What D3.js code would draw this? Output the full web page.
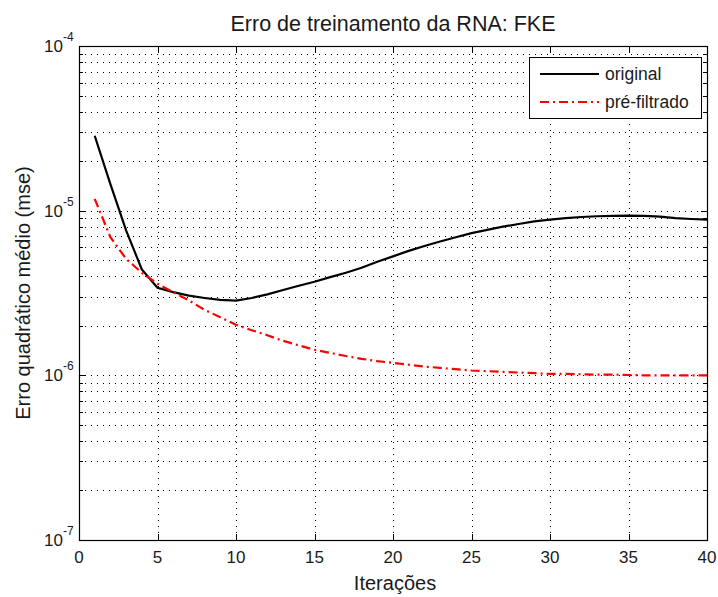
<!DOCTYPE html>
<html>
<head>
<meta charset="utf-8">
<script src="https://cdn.jsdelivr.net/npm/d3@7"></script>
<style>
body{margin:0;background:#fff;}
text{font-family:"Liberation Sans",Arial,Helvetica,sans-serif;fill:#1a1a1a;}
</style>
</head>
<body>
<svg id="chart" width="718" height="597"></svg>
<script>
const iterations = d3.range(1, 41);
const original = [2.85e-5,1.45e-5,7.6e-6,4.4e-6,3.4e-6,3.2e-6,3.05e-6,2.95e-6,2.87e-6,2.84e-6,
  2.95e-6,3.1e-6,3.3e-6,3.5e-6,3.7e-6,3.95e-6,4.2e-6,4.5e-6,4.9e-6,5.28e-6,
  5.7e-6,6.1e-6,6.5e-6,6.9e-6,7.3e-6,7.65e-6,8.0e-6,8.3e-6,8.6e-6,8.82e-6,
  9.0e-6,9.15e-6,9.25e-6,9.3e-6,9.33e-6,9.3e-6,9.2e-6,9.0e-6,8.9e-6,8.82e-6];
const preFiltrado = [1.18e-5,6.9e-6,5.1e-6,4.2e-6,3.6e-6,3.2e-6,2.85e-6,2.5e-6,2.25e-6,2.03e-6,
  1.88e-6,1.75e-6,1.62e-6,1.52e-6,1.43e-6,1.37e-6,1.31e-6,1.26e-6,1.22e-6,1.19e-6,
  1.16e-6,1.13e-6,1.11e-6,1.09e-6,1.07e-6,1.06e-6,1.05e-6,1.04e-6,1.03e-6,1.02e-6,
  1.02e-6,1.015e-6,1.01e-6,1.01e-6,1.005e-6,1.0e-6,1.0e-6,1.0e-6,1.0e-6,1.0e-6];
const xTicks = [0,5,10,15,20,25,30,35,40];
const yExponents = [-7,-6,-5,-4];
const seriesNames = ["original","pré-filtrado"];
const title = "Erro de treinamento da RNA: FKE";
const xLabel = "Iterações";
const yLabel = "Erro quadrático médio (mse)";

const L = 79, R = 707, T = 46, B = 540;
const svg = d3.select("#chart");
const x = d3.scaleLinear().domain([0,40]).range([L,R]);
const y = d3.scaleLog().domain([1e-7,1e-4]).range([B,T]);

const minorVals = [];
yExponents.slice(0,3).forEach(e => { for (let k=2;k<=9;k++) minorVals.push(k*Math.pow(10,e)); });
const majorVals = yExponents.map(e => Math.pow(10,e));

const grid = svg.append("g").attr("stroke","#000").attr("stroke-width",1).attr("stroke-dasharray","1,5").attr("fill","none");
majorVals.concat(minorVals).forEach(v => {
  const yy = Math.round(y(v)) + 0.5;
  grid.append("line").attr("x1",L).attr("x2",R).attr("y1",yy).attr("y2",yy);
});
xTicks.forEach(t => {
  const xx = Math.round(x(t)) + 0.5;
  grid.append("line").attr("x1",xx).attr("x2",xx).attr("y1",T).attr("y2",B);
});

const ticks = svg.append("g").attr("stroke","#000").attr("stroke-width",1);
xTicks.forEach(t => {
  const xx = Math.round(x(t)) + 0.5;
  ticks.append("line").attr("x1",xx).attr("x2",xx).attr("y1",B).attr("y2",B-6);
  ticks.append("line").attr("x1",xx).attr("x2",xx).attr("y1",T).attr("y2",T+6);
});
majorVals.forEach(v => {
  const yy = Math.round(y(v)) + 0.5;
  ticks.append("line").attr("x1",L).attr("x2",L+6).attr("y1",yy).attr("y2",yy);
  ticks.append("line").attr("x1",R).attr("x2",R-6).attr("y1",yy).attr("y2",yy);
});
minorVals.forEach(v => {
  const yy = Math.round(y(v)) + 0.5;
  ticks.append("line").attr("x1",L).attr("x2",L+4).attr("y1",yy).attr("y2",yy);
  ticks.append("line").attr("x1",R).attr("x2",R-4).attr("y1",yy).attr("y2",yy);
});

const line = d3.line().x((d,i)=>x(iterations[i])).y(d=>y(d));
svg.append("path").datum(original).attr("d",line).attr("fill","none").attr("stroke","#000").attr("stroke-width",2.2);
svg.append("path").datum(preFiltrado).attr("d",line).attr("fill","none").attr("stroke","#ff0000").attr("stroke-width",2.2).attr("stroke-dasharray","9,4,2,4");

svg.append("rect").attr("x",L+0.5).attr("y",T+0.5).attr("width",R-L).attr("height",B-T).attr("fill","none").attr("stroke","#000").attr("stroke-width",1.2);

xTicks.forEach(t => {
  svg.append("text").attr("x",x(t)).attr("y",563).attr("text-anchor","middle").attr("font-size",17).text(t);
});
yExponents.forEach(e => {
  const yy = y(Math.pow(10,e));
  svg.append("text").attr("x",63).attr("y",yy+6).attr("text-anchor","end").attr("font-size",17).text("10");
  svg.append("text").attr("x",63).attr("y",yy-5).attr("font-size",12).text(String(e));
});

svg.append("text").attr("x",(L+R)/2).attr("y",31).attr("text-anchor","middle").attr("font-size",21.5).text(title);
svg.append("text").attr("x",395).attr("y",590).attr("text-anchor","middle").attr("font-size",20).text(xLabel);
svg.append("text").attr("transform",`translate(30,${(T+B)/2}) rotate(-90)`).attr("text-anchor","middle").attr("font-size",20).text(yLabel);

const lg = svg.append("g");
lg.append("rect").attr("x",529.5).attr("y",57.5).attr("width",172).attr("height",61).attr("fill","#fff").attr("stroke","#000").attr("stroke-width",1);
const legendStyles = [{c:"#000",d:null},{c:"#ff0000",d:"9,4,2,4"}];
seriesNames.forEach((n,i) => {
  const yy = 74 + i*28;
  const l = lg.append("line").attr("x1",540).attr("x2",599).attr("y1",yy).attr("y2",yy).attr("stroke",legendStyles[i].c).attr("stroke-width",2.2);
  if (legendStyles[i].d) l.attr("stroke-dasharray",legendStyles[i].d);
  lg.append("text").attr("x",605).attr("y",yy+6).attr("font-size",17.5).text(n);
});
</script>
</body>
</html>
